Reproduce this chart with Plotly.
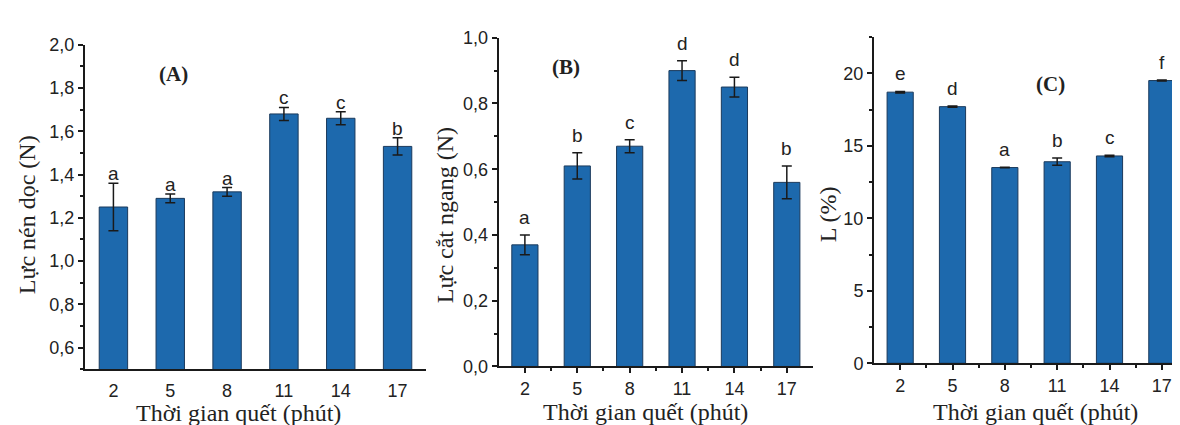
import plotly.graph_objects as go

categories = ["2", "5", "8", "11", "14", "17"]

a_values = [1.25, 1.29, 1.32, 1.68, 1.66, 1.53]
a_errors = [0.11, 0.02, 0.02, 0.03, 0.03, 0.04]
a_letters = ["a", "a", "a", "c", "c", "b"]

b_values = [0.37, 0.61, 0.67, 0.90, 0.85, 0.56]
b_errors = [0.03, 0.04, 0.02, 0.03, 0.03, 0.05]
b_letters = ["a", "b", "c", "d", "d", "b"]

c_values = [18.7, 17.7, 13.5, 13.9, 14.3, 19.5]
c_errors = [0.05, 0.05, 0.02, 0.25, 0.05, 0.03]
c_letters = ["e", "d", "a", "b", "c", "f"]

panel_labels = ["(A)", "(B)", "(C)"]
y_titles = ["Lực nén dọc (N)", "Lực cắt ngang (N)", "L (%)"]
x_title = "Thời gian quết (phút)"

W, H = 1180, 425
BAR = "#1d69ad"
EDGE = "#1b3a5c"
AX = "#1a1a1a"
TICKFONT = dict(family="Liberation Sans, Arial, sans-serif", size=18, color="#222222")
SERIF = "Liberation Serif, Times New Roman, serif"

pos = list(range(len(categories)))
mid = [p + 0.5 for p in pos[:-1]]

# pixel boxes (left, right, top, bottom)
boxes = [(77, 418, 28, 368.7), (490.7, 805, 20.7, 365.7), (866, 1180, 20, 362.3)]

fig = go.Figure()

series = [(a_values, a_errors, a_letters), (b_values, b_errors, b_letters), (c_values, c_errors, c_letters)]
yranges = [[0.5, 2.0], [0.0, 1.0], [0.0, 22.5]]
ydticks = [(0.6, 0.2, 0.1, ".1f"), (0.0, 0.2, 0.1, ".1f"), (0, 5, 2.5, "d")]

annotations = []
for i, (vals, errs, letters) in enumerate(series):
    n = "" if i == 0 else str(i + 1)
    xa, ya = "x" + n, "y" + n
    fig.add_trace(go.Bar(
        x=pos, y=vals, width=0.5,
        marker=dict(color=BAR, line=dict(color=EDGE, width=1)),
        error_y=dict(type="data", array=errs, visible=True, color="#1a1a1a", thickness=1.5, width=5),
        xaxis=xa, yaxis=ya, showlegend=False,
    ))
    l, r, t, b = boxes[i]
    xdom = [l / W, r / W]
    ydom = [1 - b / H, 1 - t / H]
    t0, dt, mdt, fmt = ydticks[i]
    xaxis = dict(
        domain=xdom, range=[-0.5, 5.5], anchor=ya,
        tickmode="array", tickvals=pos, ticktext=categories,
        showline=True, linecolor=AX, linewidth=2, showgrid=False, zeroline=False,
        tickfont=TICKFONT, ticks="outside", ticklen=5, tickwidth=1.5, tickcolor=AX,
        ticklabelstandoff=0,
    )
    if i == 0:
        xaxis.update(tickcolor="rgba(0,0,0,0)", ticklen=4)
    else:
        xaxis.update(minor=dict(tickmode="array", tickvals=mid, ticks="outside", ticklen=3, tickwidth=1.5, tickcolor=AX))
    yaxis = dict(
        domain=ydom, range=yranges[i], anchor=xa,
        tick0=t0, dtick=dt, tickformat=fmt,
        showline=True, linecolor=AX, linewidth=2, showgrid=False, zeroline=False,
        tickfont=TICKFONT, ticks="outside", ticklen=5, tickwidth=1.5, tickcolor=AX,
        minor=dict(tick0=0, dtick=mdt, ticks="outside", ticklen=3, tickwidth=1.5, tickcolor=AX),
    )
    fig.update_layout(**{"xaxis" + n: xaxis, "yaxis" + n: yaxis})

    shift = -3 if i == 0 else 5
    for p, v, e, lt in zip(pos, vals, errs, letters):
        annotations.append(dict(
            x=p, y=v + e, xref=xa, yref=ya, text=lt, showarrow=False,
            yanchor="bottom", yshift=shift,
            font=dict(family="Liberation Sans, Arial, sans-serif", size=19, color="#222222"),
        ))

# panel labels
label_pos = [(165, 59), (557.7, 51), (1042, 69)]
for txt, (px, py) in zip(panel_labels, label_pos):
    annotations.append(dict(x=px / W, y=1 - py / H, xref="paper", yref="paper", text="<b>" + txt + "</b>",
                            showarrow=False, xanchor="center", yanchor="middle",
                            font=dict(family=SERIF, size=21, color="#222222")))

# axis titles
xt_pos = [(230, 414), (637, 413), (1027, 413)]
for (px, py) in xt_pos:
    annotations.append(dict(x=px / W, y=1 - py / H, xref="paper", yref="paper", text=x_title,
                            showarrow=False, xanchor="center", yanchor="middle",
                            font=dict(family=SERIF, size=24, color="#222222")))
yt_pos = [(19, 207), (437, 207), (820, 206)]
for txt, (px, py) in zip(y_titles, yt_pos):
    annotations.append(dict(x=px / W, y=1 - py / H, xref="paper", yref="paper", text=txt,
                            showarrow=False, xanchor="center", yanchor="middle", textangle=-90,
                            font=dict(family=SERIF, size=24, color="#222222")))

fig.update_layout(
    width=W, height=H, margin=dict(l=0, r=0, t=0, b=0),
    paper_bgcolor="white", plot_bgcolor="white",
    separators=",.", annotations=annotations, bargap=0.5,
)

fig.write_html("out.html")
